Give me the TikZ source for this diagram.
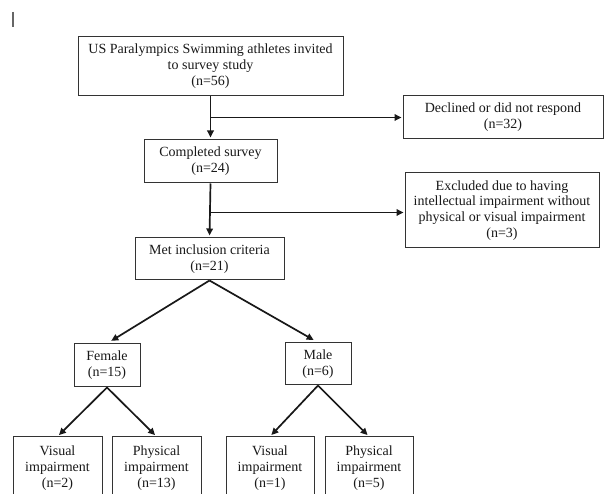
\documentclass[tikz,border=0pt]{standalone}
\usepackage{fontspec}
\setmainfont{Liberation Serif}
\usetikzlibrary{arrows.meta}
\begin{document}
\begin{tikzpicture}[x=1pt,y=-1pt,
  box/.style={draw=black!80,line width=1pt,fill=white,align=center,inner sep=0pt,
    font=\fontsize{14}{15.9}\selectfont,text=black!90},
  arr/.style={line width=1.7pt,black!90,-{Triangle[length=7pt,width=6.5pt]}},
  ln/.style={line width=1.7pt,black!90}]
\useasboundingbox[fill=white] (0,0) rectangle (606,494);
\draw[black!60,line width=1.2pt] (13,12) -- (13,27);
\node[box,minimum width=265pt,minimum height=59pt] (top) at (210.5,66.5)
  {US Paralympics Swimming athletes invited\\to survey study\\(n=56)};
\node[box,minimum width=200pt,minimum height=43pt] (decl) at (503,117.5)
  {Declined or did not respond\\(n=32)};
\node[box,minimum width=133pt,minimum height=43pt] (comp) at (210.5,161.5)
  {Completed survey\\(n=24)};
\node[box,minimum width=194pt,minimum height=75pt] (excl) at (502,210.5)
  {Excluded due to having\\intellectual impairment without\\physical or visual impairment\\(n=3)};
\node[box,minimum width=149pt,minimum height=42pt] (met) at (209.5,259)
  {Met inclusion criteria\\(n=21)};
\node[box,minimum width=66pt,minimum height=43pt] (fem) at (107,365.5)
  {Female\\(n=15)};
\node[box,minimum width=66pt,minimum height=42pt] (male) at (318,364)
  {Male\\(n=6)};
\node[box,minimum width=89pt,minimum height=62pt] (vf) at (57.5,468)
  {Visual\\impairment\\(n=2)};
\node[box,minimum width=89pt,minimum height=62pt] (pf) at (156.5,468)
  {Physical\\impairment\\(n=13)};
\node[box,minimum width=88pt,minimum height=62pt] (vm) at (270,468)
  {Visual\\impairment\\(n=1)};
\node[box,minimum width=88pt,minimum height=62pt] (pm) at (369,468)
  {Physical\\impairment\\(n=5)};
\coordinate (b1) at (top.south |- decl.west);
\coordinate (b2) at ([yshift=-2pt]comp.south |- excl.west);
\draw[arr,shorten >=2pt] (top.south) -- (comp.north);
\draw[arr,shorten >=1pt] (b1) -- (b1 -| decl.west);
\draw[arr,shorten >=2pt] (comp.south) -- (met.north);
\draw[arr,shorten >=1pt] (b2) -- (b2 -| excl.west);
\draw[arr,shorten >=5pt] (met.south) -- (fem.north);
\draw[arr,shorten >=5pt] (met.south) -- (male.north);
\draw[arr,shorten >=2pt] (fem.south) -- (vf.north);
\draw[arr,shorten >=2pt] (fem.south) -- (pf.north);
\draw[arr,shorten >=2pt] (male.south) -- (vm.north);
\draw[arr,shorten >=2pt] (male.south) -- (pm.north);
\end{tikzpicture}
\end{document}
